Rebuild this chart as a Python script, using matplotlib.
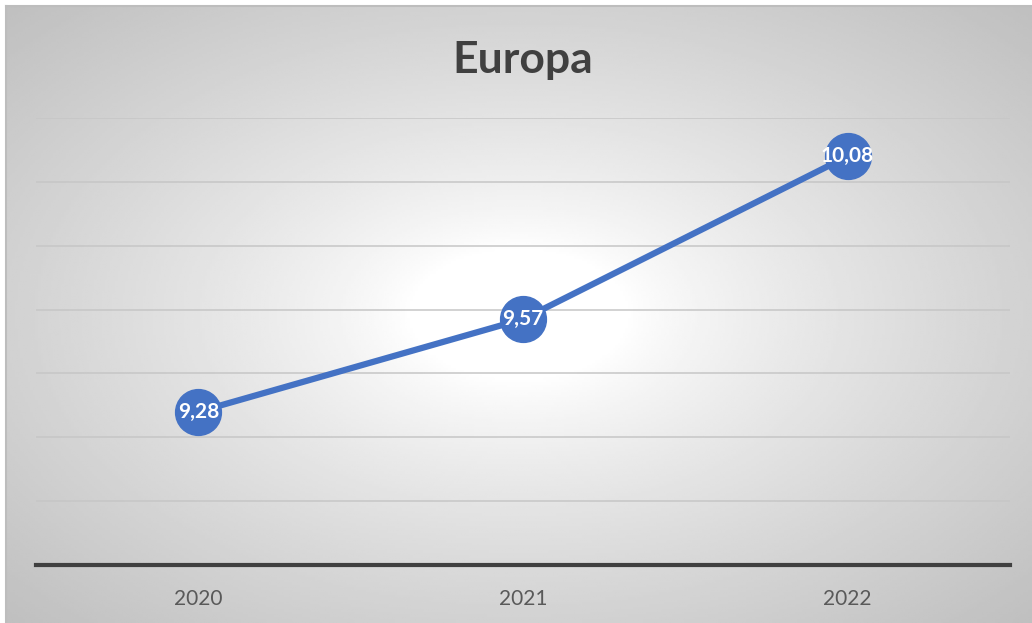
import numpy as np
import matplotlib.pyplot as plt

years = ["2020", "2021", "2022"]
values = [9.28, 9.57, 10.08]
labels = ["9,28", "9,57", "10,08"]

plt.rcParams["font.family"] = ["Lato", "DejaVu Sans"]

W, H = 1032, 623
fig = plt.figure(figsize=(W / 100, H / 100), dpi=100)

# radial gradient background
bg = fig.add_axes([6 / W, 0, 1 - 6 / W, 1 - 6 / H])
gx, gy = np.meshgrid(np.linspace(-1, 1, 400), np.linspace(-1, 1, 250))
r = np.sqrt(gx ** 2 + gy ** 2) / np.sqrt(2)
shade = 1.0 - 0.25 * np.clip((r - 0.15) / 0.85, 0, 1) ** 0.8
bg.imshow(shade, cmap="gray", vmin=0, vmax=1, aspect="auto", extent=[0, 1, 0, 1])
bg.set_axis_off()
for xs, ys in [([0, 0], [0, 1]), ([0, 1], [1, 1])]:
    bg.plot(xs, ys, color="#bdbdbd", lw=1.5, transform=bg.transAxes, clip_on=False)

ax = fig.add_axes([36 / W, (H - 565) / H, (1010 - 36) / W, (565 - 118) / H])
ax.patch.set_alpha(0)
x = np.arange(len(years))
ax.set_xlim(-0.5, 2.5)
ax.set_ylim(8.8, 10.2)
ax.set_yticks(np.arange(8.8, 10.21, 0.2))
ax.grid(axis="y", color="#c6c6c6", lw=1.1)
ax.set_axisbelow(True)
ax.tick_params(left=False, labelleft=False, bottom=False)
ax.set_xticks(x, years, color="#595959", fontsize=15)
ax.tick_params(axis="x", pad=14)
for s in ["left", "right", "top"]:
    ax.spines[s].set_visible(False)
ax.spines["bottom"].set_color("#404040")
ax.spines["bottom"].set_linewidth(3)

ax.plot(x, values, color="#4472c4", lw=4.5, marker="o", markersize=33,
        solid_capstyle="round", clip_on=False, zorder=3)
for xi, v, t in zip(x, values, labels):
    ax.text(xi, v, t, ha="center", va="center", color="white",
            fontsize=15, fontweight="bold", zorder=4)

fig.text(523 / W, 1 - 60 / H, "Europa", ha="center", va="center",
         fontsize=32, fontweight="bold", color="#404040")

fig.savefig("out.png", dpi=100)
